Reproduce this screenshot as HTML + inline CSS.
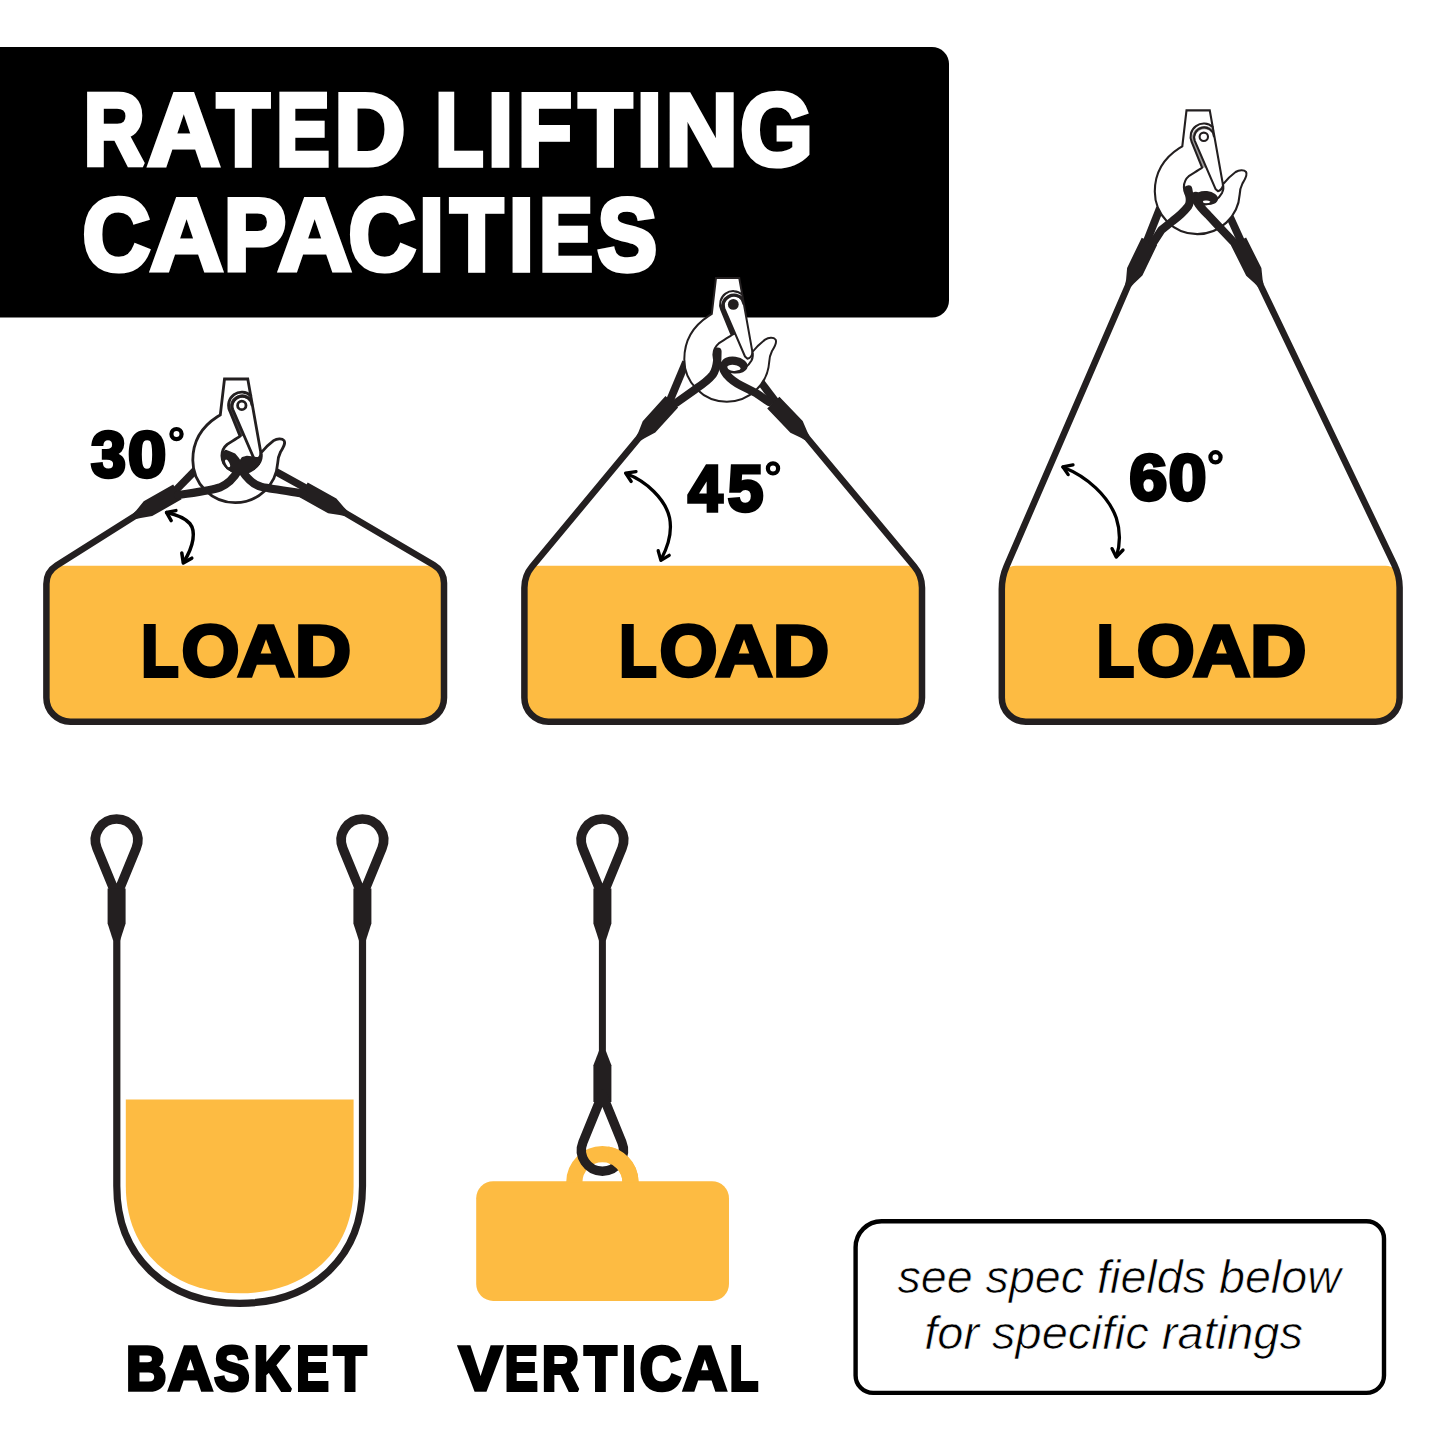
<!DOCTYPE html>
<html><head><meta charset="utf-8"><title>Rated Lifting Capacities</title>
<style>
html,body{margin:0;padding:0;background:#fff;width:1445px;height:1445px;overflow:hidden;}
svg{display:block;font-family:"Liberation Sans",sans-serif;}
.ns{vector-effect:non-scaling-stroke;}
</style></head>
<body>
<svg width="1445" height="1445" viewBox="0 0 1445 1445">
<rect width="1445" height="1445" fill="#fff"/>
<path d="M0 47H932a17 17 0 0 1 17 17V300.5a17 17 0 0 1 -17 17H0Z" fill="#000"/>
<g font-size="101.84" font-weight="700" fill="#fff" stroke="#fff" stroke-width="5" stroke-linejoin="miter" stroke-miterlimit="2"><text class="ns" transform="translate(83.78,164.50) scale(0.8273,1)">R</text><text class="ns" transform="translate(147.49,164.50) scale(0.9863,1)">A</text><text class="ns" transform="translate(216.99,164.50) scale(0.8462,1)">T</text><text class="ns" transform="translate(276.17,164.50) scale(0.7850,1)">E</text><text class="ns" transform="translate(334.13,164.50) scale(0.9670,1)">D</text><text class="ns" transform="translate(435.38,164.50) scale(0.7690,1)">L</text><text class="ns" transform="translate(488.12,164.50) scale(0.8803,1)">I</text><text class="ns" transform="translate(518.12,164.50) scale(0.8654,1)">F</text><text class="ns" transform="translate(578.78,164.50) scale(0.8562,1)">T</text><text class="ns" transform="translate(637.07,164.50) scale(0.8736,1)">I</text><text class="ns" transform="translate(665.61,164.50) scale(0.9847,1)">N</text><text class="ns" transform="translate(740.31,164.50) scale(0.9158,1)">G</text></g>
<g font-size="101.70" font-weight="700" fill="#fff" stroke="#fff" stroke-width="5" stroke-linejoin="miter" stroke-miterlimit="2"><text class="ns" transform="translate(82.59,269.50) scale(0.9226,1)">C</text><text class="ns" transform="translate(150.07,269.50) scale(0.9965,1)">A</text><text class="ns" transform="translate(223.66,269.50) scale(0.9197,1)">P</text><text class="ns" transform="translate(277.96,269.50) scale(0.9980,1)">A</text><text class="ns" transform="translate(348.52,269.50) scale(0.9166,1)">C</text><text class="ns" transform="translate(419.31,269.50) scale(0.8680,1)">I</text><text class="ns" transform="translate(450.29,269.50) scale(0.8507,1)">T</text><text class="ns" transform="translate(508.97,269.50) scale(0.8748,1)">I</text><text class="ns" transform="translate(539.35,269.50) scale(0.7896,1)">E</text><text class="ns" transform="translate(597.52,269.50) scale(0.8776,1)">S</text></g>
<path d="M46.4 579.7a14 14 0 0 1 14 -14H430.0a14 14 0 0 1 14 14V697.7a24 24 0 0 1 -24 24H70.4a24 24 0 0 1 -24 -24Z" fill="#fdbb42"/>
<g font-size="72.20" font-weight="700" fill="#000" stroke="#000" stroke-width="3.5" stroke-linejoin="miter" stroke-miterlimit="2"><text class="ns" transform="translate(141.27,676.35) scale(0.8472,1)">L</text><text class="ns" transform="translate(181.44,676.35) scale(1.0327,1)">O</text><text class="ns" transform="translate(237.36,676.35) scale(1.1038,1)">A</text><text class="ns" transform="translate(294.63,676.35) scale(1.0839,1)">D</text></g>
<path d="M141.3 512.1L56.6 565.5Q46.4 571.9 46.4 583.9V697.7a24 24 0 0 0 24 24H420.0a24 24 0 0 0 24 -24V583.1Q444.0 571.1 433.7 565.0L338.9 509.3" fill="none" stroke="#231f20" stroke-width="6.5" stroke-linejoin="round"/>
<path d="M172.7 493.3L200 465.5" fill="none" stroke="#231f20" stroke-width="7.6" stroke-linecap="butt" stroke-linejoin="round"/>
<path d="M309.2 490.0L272 469.5" fill="none" stroke="#231f20" stroke-width="7.6" stroke-linecap="butt" stroke-linejoin="round"/>
<g transform="translate(0,0)" fill="none" stroke="#231f20" stroke-width="2.8" stroke-linejoin="round" stroke-linecap="round"><path d="M224.5 379H247.75L260.9 453C262.5 451 267.5 445 273.6 440.6C277 438.5 282 438 284 440.5C286 443.5 283 448 280.5 452C278.5 456 277.8 460 277.7 463A42.5 42.5 0 0 1 235.3 502.7A42.5 42.5 0 0 1 192.8 460.2C192.8 440 203 426 217.3 416.8L220.3 414.9Z" fill="#fff" stroke-linejoin="miter"/><path d="M250.7 395.6A13.2 13.2 0 0 0 229.76 410.8L240.1 436.2C236 439 230 442.5 227.2 444.4C223.5 447.5 221.9 452 221.9 455.8C222 461 225 466 228.7 468.7C233 472 238 473.5 242 473.3C250 473 257 467 260 461.5C261.5 458.5 261.5 455 260.9 453"/><path d="M260.9 454.5Q259.5 459 256 459.8L253.5 457.5L232.8 409.45A9.9 9.9 0 1 1 251.9 404.9"/><path d="M251.2 400A11.55 11.55 0 0 0 231.3 410.1L242.2 436.2" stroke-width="3.3" stroke-linecap="butt" stroke-opacity="0.85"/><circle cx="241.8" cy="405.4" r="4.2"/></g>
<path d="M133.0 513.7L136.4 510.3L143.7 501.3L173.2 484.5L181.6 499.3L152.2 516.1L140.7 517.9L136.0 519.1Z" fill="#231f20"/>
<path d="M344.3 516.1L339.6 515.0L328.1 513.3L299.5 497.2L307.7 482.4L336.4 498.4L343.9 507.3L347.3 510.7Z" fill="#231f20"/>
<path d="M178 495C195 492.5 212 490.5 220 487.4C228 484 234 478 238.5 470" fill="none" stroke="#231f20" stroke-width="8.2" stroke-linecap="round" stroke-linejoin="round"/>
<path d="M303 493.5C290 491.5 272 489 262 487C253 485 247 478.5 241.5 470" fill="none" stroke="#231f20" stroke-width="8.2" stroke-linecap="round" stroke-linejoin="round"/>
<path d="M225.7 450.5L229.5 452L234.8 454.3L238.6 458.8L240.1 461.1L242.4 457.7L247 456.5L253.1 457.3L259.2 458.1L260.7 460.3L259.2 464.2L254.6 468.7L248.5 471.4L242.4 473.3L236 473.5L232.5 471.8L227.2 468.7L223.4 463.4L221.9 457.3L223 452.7Z" fill="#231f20" stroke="#231f20" stroke-width="1.5" stroke-linejoin="round"/>
<ellipse cx="227.6" cy="463.4" rx="1.7" ry="4.2" transform="rotate(-28 227.6 463.4)" fill="#fff"/>
<path d="M524.4 579.7a14 14 0 0 1 14 -14H908.0a14 14 0 0 1 14 14V697.7a24 24 0 0 1 -24 24H548.4a24 24 0 0 1 -24 -24Z" fill="#fdbb42"/>
<g font-size="72.20" font-weight="700" fill="#000" stroke="#000" stroke-width="3.5" stroke-linejoin="miter" stroke-miterlimit="2"><text class="ns" transform="translate(619.27,676.35) scale(0.8472,1)">L</text><text class="ns" transform="translate(659.44,676.35) scale(1.0327,1)">O</text><text class="ns" transform="translate(715.36,676.35) scale(1.1038,1)">A</text><text class="ns" transform="translate(772.63,676.35) scale(1.0839,1)">D</text></g>
<path d="M643.7 432.2L532.1 566.5Q524.4 575.7 524.4 587.7V697.7a24 24 0 0 0 24 24H898.0a24 24 0 0 0 24 -24V587.7Q922.0 575.7 914.3 566.5L802.2 432.0" fill="none" stroke="#231f20" stroke-width="6.5" stroke-linejoin="round"/>
<path d="M668.1 404.8L686 362" fill="none" stroke="#231f20" stroke-width="7.8" stroke-linecap="butt" stroke-linejoin="round"/>
<path d="M778.0 404.9L760 381" fill="none" stroke="#231f20" stroke-width="7.8" stroke-linecap="butt" stroke-linejoin="round"/>
<g transform="translate(491.5,-101)" fill="none" stroke="#231f20" stroke-width="2.0" stroke-linejoin="round" stroke-linecap="round"><path d="M224.5 379H247.75L260.9 453C262.5 451 267.5 445 273.6 440.6C277 438.5 282 438 284 440.5C286 443.5 283 448 280.5 452C278.5 456 277.8 460 277.7 463A42.5 42.5 0 0 1 235.3 502.7A42.5 42.5 0 0 1 192.8 460.2C192.8 440 203 426 217.3 416.8L220.3 414.9Z" fill="#fff" stroke-linejoin="miter"/><path d="M250.7 395.6A13.2 13.2 0 0 0 229.76 410.8L240.1 436.2C236 439 230 442.5 227.2 444.4C223.5 447.5 221.9 452 221.9 455.8C222 461 225 466 228.7 468.7C233 472 238 473.5 242 473.3C250 473 257 467 260 461.5C261.5 458.5 261.5 455 260.9 453"/><path d="M260.9 454.5Q259.5 459 256 459.8L253.5 457.5L232.8 409.45A9.9 9.9 0 1 1 251.9 404.9"/><path d="M251.2 400A11.55 11.55 0 0 0 231.3 410.1L242.2 436.2" stroke-width="3.3" stroke-linecap="butt" stroke-opacity="1"/><circle cx="241.8" cy="405.4" r="5.4" fill="#231f20" stroke="none"/></g>
<path d="M636.3 436.3L638.5 432.0L642.7 421.2L665.5 396.1L678.1 407.5L655.3 432.6L645.0 437.9L640.9 440.5Z" fill="#231f20"/>
<path d="M805.1 440.2L800.9 437.8L790.4 432.8L767.2 408.5L779.4 396.7L802.7 421.0L807.3 431.7L809.5 436.0Z" fill="#231f20"/>
<path d="M676 403L695.2 389.3C701 385.5 709 379.5 712.7 374.8C715.5 371 716.8 364 717.3 359.6L717.5 351.5" fill="none" stroke="#231f20" stroke-width="8.2" stroke-linecap="round" stroke-linejoin="round"/>
<path d="M769 402L756.1 393.1L740.9 385.5C736 383 730 378.6 726.5 374.5C724 371.5 722.8 368 722.6 365.7" fill="none" stroke="#231f20" stroke-width="8.2" stroke-linecap="round" stroke-linejoin="round"/>
<g transform="rotate(8 734.4 365)"><path fill-rule="evenodd" fill="#231f20" d="M721.1 365a13.3 8.4 0 1 0 26.6 0a13.3 8.4 0 1 0 -26.6 0ZM727.5 368a6.8 3 0 1 0 13.6 0a6.8 3 0 1 0 -13.6 0Z"/></g>
<path d="M1001.8 579.7a14 14 0 0 1 14 -14H1385.6a14 14 0 0 1 14 14V697.7a24 24 0 0 1 -24 24H1025.8a24 24 0 0 1 -24 -24Z" fill="#fdbb42"/>
<g font-size="72.20" font-weight="700" fill="#000" stroke="#000" stroke-width="3.5" stroke-linejoin="miter" stroke-miterlimit="2"><text class="ns" transform="translate(1096.67,676.35) scale(0.8472,1)">L</text><text class="ns" transform="translate(1136.84,676.35) scale(1.0327,1)">O</text><text class="ns" transform="translate(1192.76,676.35) scale(1.1038,1)">A</text><text class="ns" transform="translate(1250.03,676.35) scale(1.0839,1)">D</text></g>
<path d="M1131.2 278.4L1006.6 566.2Q1001.8 577.2 1001.8 589.2V697.7a24 24 0 0 0 24 24H1375.6a24 24 0 0 0 24 -24V587.6Q1399.6 575.6 1394.4 564.8L1257.3 278.5" fill="none" stroke="#231f20" stroke-width="6.5" stroke-linejoin="round"/>
<path d="M1145.4 245.0L1160 208" fill="none" stroke="#231f20" stroke-width="7.8" stroke-linecap="butt" stroke-linejoin="round"/>
<path d="M1242.7 244.9L1230 217" fill="none" stroke="#231f20" stroke-width="7.8" stroke-linecap="butt" stroke-linejoin="round"/>
<g transform="translate(962,-268.6)" fill="none" stroke="#231f20" stroke-width="2.1" stroke-linejoin="round" stroke-linecap="round"><path d="M224.5 379H247.75L260.9 453C262.5 451 267.5 445 273.6 440.6C277 438.5 282 438 284 440.5C286 443.5 283 448 280.5 452C278.5 456 277.8 460 277.7 463A42.5 42.5 0 0 1 235.3 502.7A42.5 42.5 0 0 1 192.8 460.2C192.8 440 203 426 217.3 416.8L220.3 414.9Z" fill="#fff" stroke-linejoin="miter"/><path d="M250.7 395.6A13.2 13.2 0 0 0 229.76 410.8L240.1 436.2C236 439 230 442.5 227.2 444.4C223.5 447.5 221.9 452 221.9 455.8C222 461 225 466 228.7 468.7C233 472 238 473.5 242 473.3C250 473 257 467 260 461.5C261.5 458.5 261.5 455 260.9 453"/><path d="M260.9 454.5Q259.5 459 256 459.8L253.5 457.5L232.8 409.45A9.9 9.9 0 1 1 251.9 404.9"/><path d="M251.2 400A11.55 11.55 0 0 0 231.3 410.1L242.2 436.2" stroke-width="3.3" stroke-linecap="butt" stroke-opacity="0.45"/><circle cx="241.8" cy="405.4" r="4.2"/></g>
<path d="M1125.2 284.4L1126.1 279.6L1127.1 268.0L1141.7 237.7L1157.1 245.1L1142.4 275.4L1134.0 283.4L1130.8 287.0Z" fill="#231f20"/>
<path d="M1258.0 287.1L1254.8 283.5L1246.2 275.7L1230.9 245.2L1246.1 237.6L1261.4 268.0L1262.6 279.6L1263.6 284.3Z" fill="#231f20"/>
<path d="M1153 243L1161.4 230L1172.8 220.9C1178 217 1184.5 211 1188.1 206.4C1190 203.5 1190 199 1189.4 196L1188.3 189.5" fill="none" stroke="#231f20" stroke-width="8.2" stroke-linecap="round" stroke-linejoin="round"/>
<path d="M1234 242.5L1218.5 226.2L1207.9 214.8C1204 211 1199 205.5 1196.9 201.5C1196 199.5 1195.7 197.5 1195.7 195.8" fill="none" stroke="#231f20" stroke-width="8.2" stroke-linecap="round" stroke-linejoin="round"/>
<g transform="rotate(6 1206.3 198)"><path fill-rule="evenodd" fill="#231f20" d="M1194.5 198a11.8 7 0 1 0 23.6 0a11.8 7 0 1 0 -23.6 0ZM1203.3 201.9a3.8 1.5 0 1 0 7.6 0a3.8 1.5 0 1 0 -7.6 0Z"/></g>
<g font-size="63.92" font-weight="700" fill="#000" stroke="#000" stroke-width="3.5" stroke-linejoin="miter" stroke-miterlimit="2"><text class="ns" transform="translate(90.88,477.05) scale(0.9827,1)">3</text><text class="ns" transform="translate(127.77,477.05) scale(1.0868,1)">0</text></g>
<circle cx="176.5" cy="434.1" r="5.1" fill="none" stroke="#000" stroke-width="4.2"/>
<g font-size="63.92" font-weight="700" fill="#000" stroke="#000" stroke-width="3.5" stroke-linejoin="miter" stroke-miterlimit="2"><text class="ns" transform="translate(688.02,511.35) scale(0.9708,1)">4</text><text class="ns" transform="translate(727.72,511.35) scale(1.0016,1)">5</text></g>
<circle cx="773" cy="468.4" r="5.1" fill="none" stroke="#000" stroke-width="4.2"/>
<g font-size="63.92" font-weight="700" fill="#000" stroke="#000" stroke-width="3.5" stroke-linejoin="miter" stroke-miterlimit="2"><text class="ns" transform="translate(1129.24,500.35) scale(1.0713,1)">6</text><text class="ns" transform="translate(1168.41,500.35) scale(1.0704,1)">0</text></g>
<circle cx="1215.5" cy="457.3" r="5.1" fill="none" stroke="#000" stroke-width="4.2"/>
<path d="M166.8 512.6C176 514.5 185.5 518.5 189.8 523.5C196 531 194 546 183.6 562.2" fill="none" stroke="#000" stroke-width="3.5" stroke-linecap="round" stroke-linejoin="round"/><path d="M175.9 510.6L166.5 512.4L171.2 520.6" fill="none" stroke="#000" stroke-width="3.5" stroke-linecap="round" stroke-linejoin="round"/><path d="M181.8 552.9L183.3 562.9L191.8 558.2" fill="none" stroke="#000" stroke-width="3.5" stroke-linecap="round" stroke-linejoin="round"/>
<path d="M626.5 473.8C646 481 665.5 499 669.6 518C672.3 532 668 546.5 661.2 559.2" fill="none" stroke="#000" stroke-width="3.3" stroke-linecap="round" stroke-linejoin="round"/><path d="M636 471.6L625.6 473.2L631.2 481.5" fill="none" stroke="#000" stroke-width="3.3" stroke-linecap="round" stroke-linejoin="round"/><path d="M658.2 550.7L660.9 560.4L669.2 555.3" fill="none" stroke="#000" stroke-width="3.3" stroke-linecap="round" stroke-linejoin="round"/>
<path d="M1063.2 467.2C1087 476.5 1108.5 496 1116.3 518C1120.5 531 1120 545 1116.5 556.5" fill="none" stroke="#000" stroke-width="3.3" stroke-linecap="round" stroke-linejoin="round"/><path d="M1073 464.8L1062.8 466.9L1068.2 474.6" fill="none" stroke="#000" stroke-width="3.3" stroke-linecap="round" stroke-linejoin="round"/><path d="M1112 548.6L1116.2 557L1123 550" fill="none" stroke="#000" stroke-width="3.3" stroke-linecap="round" stroke-linejoin="round"/>
<path d="M125.8 1099.4V1186C125.8 1250.4 171.4 1293.3 239.70000000000002 1293.3C308.0 1293.3 353.6 1250.4 353.6 1186V1099.4Z" fill="#fdbb42"/>
<path d="M116.8 938V1186C116.8 1256.4 165.9 1303.3 239.65 1303.3C313.4 1303.3 362.5 1256.4 362.5 1186V938" fill="none" stroke="#231f20" stroke-width="7.2"/>
<path d="M116.6 896.0L96.99 848.25A21.2 21.2 0 1 1 136.21 848.25Z" fill="none" stroke="#231f20" stroke-width="9.6" stroke-linejoin="round"/>
<path d="M107.6 888.5H125.6V923.5L120.1 940.5H113.1L107.6 923.5Z" fill="#231f20"/>
<path d="M362.4 896.0L342.79 848.25A21.2 21.2 0 1 1 382.01 848.25Z" fill="none" stroke="#231f20" stroke-width="9.6" stroke-linejoin="round"/>
<path d="M353.4 888.5H371.4V923.5L365.9 940.5H358.9L353.4 923.5Z" fill="#231f20"/>
<g font-size="62.32" font-weight="700" fill="#000" stroke="#000" stroke-width="3.5" stroke-linejoin="miter" stroke-miterlimit="2"><text class="ns" transform="translate(126.11,1390.45) scale(0.8996,1)">B</text><text class="ns" transform="translate(168.09,1390.45) scale(0.9986,1)">A</text><text class="ns" transform="translate(214.16,1390.45) scale(0.8501,1)">S</text><text class="ns" transform="translate(253.79,1390.45) scale(0.8333,1)">K</text><text class="ns" transform="translate(296.20,1390.45) scale(0.7827,1)">E</text><text class="ns" transform="translate(333.83,1390.45) scale(0.8563,1)">T</text></g>
<rect x="476.2" y="1181.2" width="252.8" height="119.7" rx="17" fill="#fdbb42"/>
<path d="M574.3 1182.3A28.1 28.1 0 0 1 630.5 1182.3" fill="none" stroke="#fdbb42" stroke-width="16.2"/>
<path d="M602.4 938V1053" fill="none" stroke="#231f20" stroke-width="7"/>
<path d="M602.4 896.0L582.79 848.25A21.2 21.2 0 1 1 622.01 848.25Z" fill="none" stroke="#231f20" stroke-width="9.6" stroke-linejoin="round"/>
<path d="M593.4 888.5H611.4V923.5L605.9 940.5H598.9L593.4 923.5Z" fill="#231f20"/>
<path d="M593.4 1102H611.4V1065.3L605.9 1051H598.9L593.4 1065.3Z" fill="#231f20"/>
<path d="M602.4 1094.4L621.86 1142.30A21.0 21.0 0 1 1 582.94 1142.30Z" fill="none" stroke="#231f20" stroke-width="9.4" stroke-linejoin="round"/>
<clipPath id="lugclip"><rect x="608.4" y="1130" width="50" height="53"/></clipPath><g clip-path="url(#lugclip)"><path d="M574.3 1182.3A28.1 28.1 0 0 1 630.5 1182.3" fill="none" stroke="#fdbb42" stroke-width="16.2"/></g>
<g font-size="62.32" font-weight="700" fill="#000" stroke="#000" stroke-width="3.5" stroke-linejoin="miter" stroke-miterlimit="2"><text class="ns" transform="translate(458.92,1390.45) scale(1.0339,1)">V</text><text class="ns" transform="translate(504.65,1390.45) scale(0.7942,1)">E</text><text class="ns" transform="translate(542.04,1390.45) scale(0.8212,1)">R</text><text class="ns" transform="translate(584.33,1390.45) scale(0.8509,1)">T</text><text class="ns" transform="translate(622.13,1390.45) scale(0.7746,1)">I</text><text class="ns" transform="translate(639.65,1390.45) scale(0.9234,1)">C</text><text class="ns" transform="translate(682.72,1390.45) scale(0.9819,1)">A</text><text class="ns" transform="translate(729.75,1390.45) scale(0.7470,1)">L</text></g>
<path d="M855.6 1247.3a26 26 0 0 1 26 -26H1366.5a17.5 17.5 0 0 1 17.5 17.5V1375.4a17.5 17.5 0 0 1 -17.5 17.5H873.1a17.5 17.5 0 0 1 -17.5 -17.5Z" fill="#fff" stroke="#000" stroke-width="4.4"/>
<text transform="translate(897.4,1293.1) scale(1.0291,1)" font-size="45.35" font-weight="400" font-style="italic" fill="#000" stroke="#fff" stroke-width="0.7">see spec fields below</text>
<text transform="translate(924.2,1349.3) scale(1.0367,1)" font-size="45.35" font-weight="400" font-style="italic" fill="#000" stroke="#fff" stroke-width="0.7">for specific ratings</text>
</svg>
</body></html>
